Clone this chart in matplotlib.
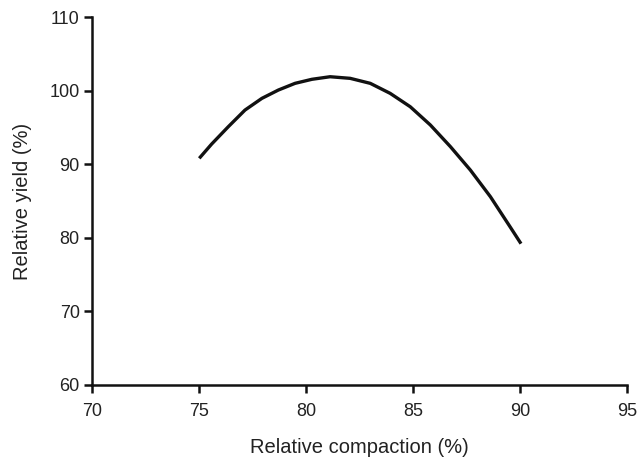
import matplotlib
matplotlib.use("Agg")
import matplotlib.pyplot as plt

# values
compaction = [75.0, 75.58, 76.36, 77.14, 77.93, 78.70, 79.48, 80.27, 81.12, 82.06,
              83.0, 83.93, 84.87, 85.81, 86.75, 87.68, 88.62, 89.56, 90.05]
rel_yield = [90.8, 92.74, 95.1, 97.36, 98.95, 100.08, 100.99, 101.54, 101.89, 101.67,
             100.99, 99.63, 97.81, 95.33, 92.38, 89.21, 85.58, 81.4, 79.2]

xticks = [70, 75, 80, 85, 90, 95]
yticks = [60, 70, 80, 90, 100, 110]

plt.rcParams['font.family'] = ['Liberation Sans', 'DejaVu Sans']

fig = plt.figure(figsize=(6.37, 4.61), dpi=100)
ax = fig.add_axes([0.145, 0.165, 0.839, 0.798])

ax.plot(compaction, rel_yield, color='#111111', lw=2.4,
        solid_capstyle='butt', solid_joinstyle='round')

ax.set_xlim(70, 95)
ax.set_ylim(60, 110)
ax.set_xticks(xticks)
ax.set_yticks(yticks)

for s in ['top', 'right']:
    ax.spines[s].set_visible(False)
for s in ['left', 'bottom']:
    ax.spines[s].set_linewidth(1.8)
    ax.spines[s].set_color('#111111')

ax.tick_params(direction='out', length=6, width=1.8, color='#111111',
               labelsize=13, labelcolor='#222222')
ax.tick_params(axis='x', pad=7)
ax.tick_params(axis='y', pad=3)

ax.set_xlabel('Relative compaction (%)', fontsize=14.5, color='#222222', labelpad=13)
ax.set_ylabel('Relative yield (%)', fontsize=14.5, color='#222222', labelpad=13)

fig.savefig('out.png', dpi=100)
